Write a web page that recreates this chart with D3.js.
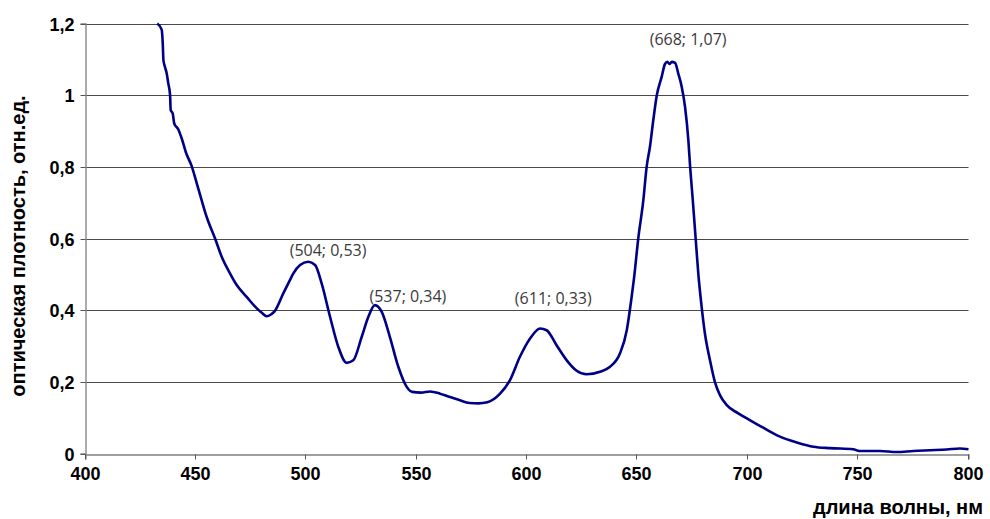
<!DOCTYPE html>
<html><head><meta charset="utf-8">
<script src="https://cdn.jsdelivr.net/npm/d3@7"></script>
<style>body{margin:0;background:#fff}svg{display:block}</style>
</head><body>
<svg id="c" width="990" height="519"></svg>
<script>
const wavelength = [432.5,434.5,435.0,435.3,436.0,436.3,436.6,437.5,438.3,438.6,439.5,440.2,442.0,443.6,445.5,448.1,450.4,452.6,454.9,458.7,461.7,465.5,468.5,473.0,477.6,480.0,482.1,484.0,485.8,489.6,492.6,494.1,497.2,500.9,504.0,507.0,510.8,514.5,518.3,521.3,525.1,528.1,531.1,534.2,537.9,541.7,545.5,548,552,556.1,560.6,564,569,574,578,582,587.8,592.3,596.8,601.4,605.9,608.9,613.4,618.0,622.5,627.0,633.1,637.6,642.1,645.2,647.4,648.5,650.4,652.7,654.2,655.7,657.2,658.8,661.0,662.5,663.6,664.5,665.6,667.1,668.5,670.1,671.6,673.1,673.9,675.1,676.4,677.6,679.1,680.6,682.9,685.1,687.4,690.5,695.7,701.0,707.0,714.6,722.2,729.7,737.3,747.8,750.5,759.9,767.5,775.0,782.6,790.1,796.1,800];
const absorbance = [1.200,1.183,1.144,1.098,1.079,1.072,1.066,1.033,1.001,0.958,0.949,0.921,0.905,0.879,0.840,0.802,0.754,0.707,0.660,0.600,0.549,0.502,0.470,0.437,0.405,0.392,0.383,0.388,0.398,0.447,0.484,0.502,0.526,0.535,0.526,0.474,0.381,0.298,0.253,0.260,0.325,0.381,0.414,0.395,0.325,0.242,0.186,0.172,0.170,0.173,0.167,0.160,0.150,0.141,0.140,0.143,0.167,0.205,0.270,0.321,0.349,0.344,0.302,0.260,0.231,0.221,0.228,0.242,0.279,0.344,0.437,0.490,0.600,0.707,0.800,0.856,0.930,1.000,1.051,1.087,1.093,1.087,1.093,1.090,1.061,1.023,0.967,0.874,0.800,0.707,0.600,0.502,0.410,0.335,0.260,0.200,0.163,0.135,0.112,0.093,0.072,0.047,0.031,0.019,0.015,0.012,0.007,0.007,0.004,0.007,0.009,0.011,0.014,0.012];
const xTicks = [400,450,500,550,600,650,700,750,800];
const yTicks = [0,0.2,0.4,0.6,0.8,1,1.2];
const annotations = ["(504; 0,53)","(537; 0,34)","(611; 0,33)","(668; 1,07)"];
const annotationAt = [[504,0.53],[537,0.34],[611,0.33],[668,1.07]];
const xTitle = "длина волны, нм";
const yTitle = "оптическая плотность, отн.ед.";

const svg = d3.select("#c");
const x = d3.scaleLinear().domain([400,800]).range([85.5,968.5]);
const y = d3.scaleLinear().domain([0,1.2]).range([453.5,23.5]);
const fmt = v => String(v).replace(".", ",");

// gridlines
svg.append("g").selectAll("line").data(yTicks.filter(d=>d>0)).join("line")
  .attr("x1", x(400)).attr("x2", x(800))
  .attr("y1", d=>Math.round(y(d))+0.5).attr("y2", d=>Math.round(y(d))+0.5)
  .attr("stroke", "#4a4a4a").attr("stroke-width", 1);

// axes
const axisFont = "'Liberation Sans', Arial, sans-serif";
const gx = svg.append("g").attr("transform", `translate(0,${Math.round(y(0))+0.5})`)
  .call(d3.axisBottom(x).tickValues(xTicks).tickSize(5).tickPadding(8).tickFormat(d=>d));
const gy = svg.append("g").attr("transform", `translate(${Math.round(x(400))-0.5},0)`)
  .call(d3.axisLeft(y).tickValues(yTicks).tickSize(5).tickPadding(6).tickFormat(fmt));
gy.selectAll(".tick").attr("transform", d=>`translate(0,${Math.round(y(d))+0.5})`);
gx.selectAll(".tick").attr("transform", d=>`translate(${Math.round(x(d))-0.5},0)`);
[gx, gy].forEach(g => {
  g.select(".domain").attr("stroke", "#808080").attr("stroke-width", 1.3);
  g.selectAll(".tick line").attr("stroke", "#555");
  g.selectAll(".tick text").attr("font-family", axisFont).attr("font-weight", "bold")
    .attr("font-size", 18).attr("fill", "#000");
});
gy.selectAll(".tick text").attr("dy", "0.36em");

// curve
const line = d3.line().x((d,i)=>x(wavelength[i])).y(d=>y(d)).curve(d3.curveMonotoneX);
svg.append("path").datum(absorbance).attr("d", line)
  .attr("fill", "none").attr("stroke", "#000087").attr("stroke-width", 2.6)
  .attr("stroke-linejoin", "round");

// annotations (label centres offset from the peak they describe)
const annDx = [13, 20, 2, 11];
const annY = [256, 302, 304, 45];
svg.append("g").selectAll("text").data(annotations).join("text")
  .attr("x", (d,i)=>x(annotationAt[i][0]) + annDx[i])
  .attr("y", (d,i)=>annY[i])
  .attr("text-anchor", "middle")
  .attr("font-family", "'Open Sans', sans-serif").attr("font-size", 16)
  .attr("fill", "#3a3a3a").text(d=>d);

// titles
svg.append("text").attr("x", 983).attr("y", 514).attr("text-anchor", "end")
  .attr("font-family", axisFont).attr("font-weight", "bold").attr("font-size", 20)
  .text(xTitle);
svg.append("text").attr("transform", "translate(25,246) rotate(-90)")
  .attr("text-anchor", "middle")
  .attr("font-family", axisFont).attr("font-weight", "bold").attr("font-size", 20)
  .text(yTitle);
</script>
</body></html>
